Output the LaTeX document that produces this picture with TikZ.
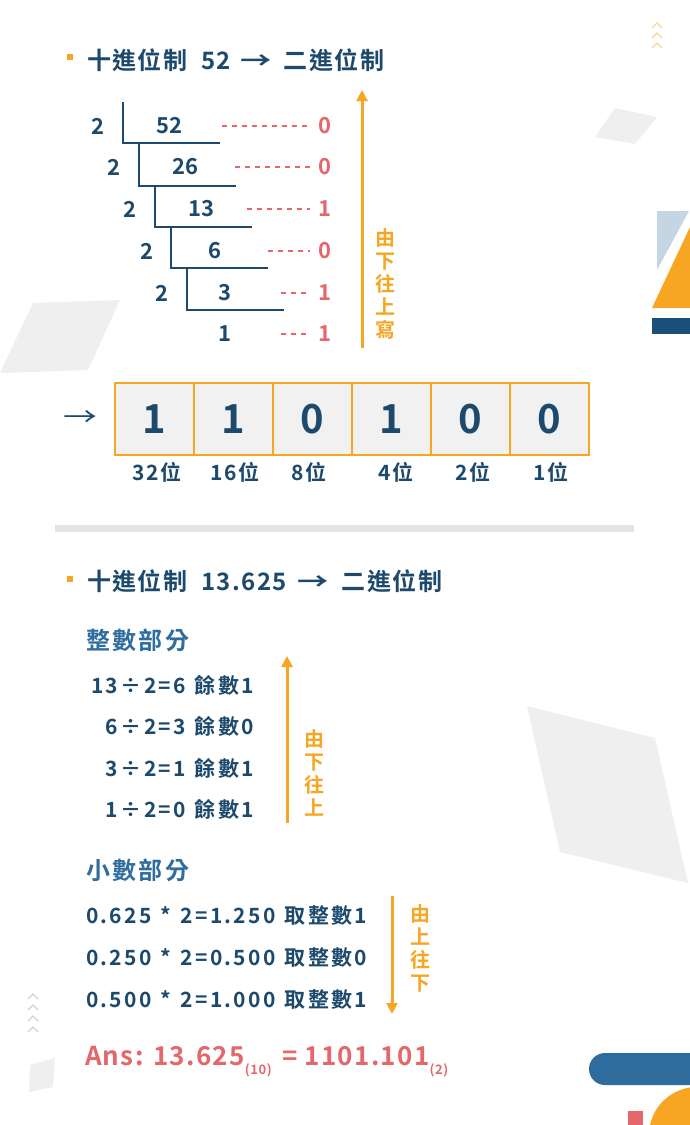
\documentclass[tikz,border=0pt]{standalone}
\usepackage{fontspec}
\setmainfont{Noto Sans CJK TC}[BoldFont={Noto Sans CJK TC Bold}]
\newfontfamily\calcfont{Noto Sans CJK TC}[BoldFont={Noto Sans CJK TC Bold}, LetterSpace=11, WordSpace=1.3]
\usetikzlibrary{arrows.meta}
\definecolor{navy}{HTML}{1D4A6C}
\definecolor{rd}{HTML}{E4676B}
\definecolor{org}{HTML}{F6A623}
\definecolor{mblue}{HTML}{2E6D9E}
\definecolor{lgray}{HTML}{EFEFEF}
\definecolor{sepc}{HTML}{E3E3E3}
\definecolor{lblue}{HTML}{C5D5E3}
\definecolor{dblue}{HTML}{1B4F78}
\definecolor{barblue}{HTML}{2D6C9C}
\definecolor{chevo}{HTML}{F8D3A0}
\definecolor{chevb}{HTML}{C9D3DE}
\definecolor{cellfill}{HTML}{F1F1F1}
\newcommand{\larr}{\scalebox{1.3}[1]{→}}
\begin{document}
\begin{tikzpicture}[x=1pt,y=-1pt,
  every node/.style={inner sep=0pt, outer sep=0pt},
  ttext/.style={text=navy, font=\bfseries\fontsize{24}{24}\selectfont\addfontfeatures{LetterSpace=6}, anchor=west},
  bullet/.style={fill=org, minimum size=6pt},
  numtext/.style={text=navy, font=\bfseries\fontsize{22}{22}\selectfont},
  remtext/.style={text=rd, font=\bfseries\fontsize{22}{22}\selectfont},
  ladder/.style={draw=navy, line width=2.6pt},
  reddash/.style={draw=rd, line width=2pt, dash pattern=on 5pt off 5pt},
  vtext/.style={text=org, font=\bfseries\fontsize{20}{23}\selectfont, align=center},
  upar/.style={draw=org, line width=3pt, -{Triangle[width=11pt,length=11pt]}},
  cellbox/.style={draw=org, fill=cellfill, line width=2.5pt, minimum width=79pt, minimum height=72pt, text=navy, font=\bfseries\fontsize{40}{40}\selectfont},
  poslabel/.style={text=navy, font=\bfseries\fontsize{21}{21}\selectfont\addfontfeatures{LetterSpace=10}},
  headtext/.style={text=mblue, font=\bfseries\fontsize{24}{24}\selectfont\addfontfeatures{LetterSpace=10}, anchor=west},
  calcline/.style={text=navy, font=\calcfont\bfseries\fontsize{21}{21}\selectfont},
  deco/.style={fill=lgray, draw=none}
]
\useasboundingbox (0,0) rectangle (690,1125);
\fill[white] (0,0) rectangle (690,1125);

% ---------- decorations ----------
\fill[deco] (595,137) -- (615,108) -- (657,117) -- (635,144) -- cycle;
\fill[deco] (33,303) -- (120,300) -- (88,370) -- (0,373) -- cycle;
\fill[deco] (527,706) -- (655,738) -- (688,883) -- (560,852) -- cycle;
\fill[deco] (30,1065) -- (55,1058) -- (53,1087) -- (29,1092) -- cycle;
\fill[lblue] (657,211) -- (689,211) -- (657,270) -- cycle;
\fill[org] (652,308) -- (690,308) -- (690,227) -- cycle;
\fill[dblue] (652,318) rectangle (690,334);
\fill[barblue, rounded corners=16pt] (589,1053) rectangle (720,1085);
\fill[org] (697,1135) circle (48pt);
\fill[rd] (628,1111) rectangle (643,1125);
\foreach \yy in {25,35,45}
  \draw[chevo, line width=1.2pt] (652,\yy+3) -- (657,\yy-2) -- (662,\yy+3);
\foreach \yy in {996,1007,1018,1029}
  \draw[chevb, line width=1.2pt] (28,\yy+3) -- (33,\yy-2) -- (38,\yy+3);

% ---------- section 1 ----------
\node[bullet] (b1) at (70,57) {};
\node[ttext] (t1) at (87,60) {十進位制\hspace{7pt} 52 \hspace{3pt}\larr\hspace{5pt} 二進位制};

% divisors
\node[numtext] (d0) at (98,126) {2};
\node[numtext] (d1) at (114,167) {2};
\node[numtext] (d2) at (130,209) {2};
\node[numtext] (d3) at (147,251) {2};
\node[numtext] (d4) at (162,293) {2};
% quotients
\node[numtext] (q0) at (169,126) {52};
\node[numtext] (q1) at (185,167) {26};
\node[numtext] (q2) at (201,209) {13};
\node[numtext] (q3) at (215,251) {6};
\node[numtext] (q4) at (225,293) {3};
\node[numtext] (q5) at (225,334) {1};
% ladder
\draw[ladder] (123,102) -- (123,143) -- (220,143);
\draw[ladder] (139,143) -- (139,186) -- (236,186);
\draw[ladder] (155,186) -- (155,227) -- (252,227);
\draw[ladder] (171,227) -- (171,268) -- (268,268);
\draw[ladder] (187,268) -- (187,310) -- (284,310);
% remainders
\node[remtext] (r0) at (325,126) {0};
\node[remtext] (r1) at (325,167) {0};
\node[remtext] (r2) at (325,209) {1};
\node[remtext] (r3) at (325,251) {0};
\node[remtext] (r4) at (325,293) {1};
\node[remtext] (r5) at (325,334) {1};
\draw[reddash] (222,126) -- (310,126);
\draw[reddash] (235,167) -- (310,167);
\draw[reddash] (247,209) -- (310,209);
\draw[reddash] (268,251) -- (310,251);
\draw[reddash] (281,293) -- (310,293);
\draw[reddash] (281,334) -- (310,334);

\coordinate (a1s) at (362,348);
\coordinate (a1e) at (362,90);
\draw[upar] (a1s) -- (a1e);
\node[vtext] (v1) at (385,284) {由\\下\\往\\上\\寫};

% result boxes
\node[text=navy, font=\fontsize{26}{26}\selectfont] (arr) at (80,419) {\larr};
\node[cellbox] (c1) at (154.5,419) {1};
\node[cellbox, anchor=west] (c2) at (c1.east) {1};
\node[cellbox, anchor=west] (c3) at (c2.east) {0};
\node[cellbox, anchor=west] (c4) at (c3.east) {1};
\node[cellbox, anchor=west] (c5) at (c4.east) {0};
\node[cellbox, anchor=west] (c6) at (c5.east) {0};
\node[poslabel] (p1) at (157,472) {32位};
\node[poslabel] (p2) at (235,472) {16位};
\node[poslabel] (p3) at (309,472) {8位};
\node[poslabel] (p4) at (396,472) {4位};
\node[poslabel] (p5) at (473,472) {2位};
\node[poslabel] (p6) at (551,472) {1位};

% separator
\fill[sepc] (55,525) rectangle (634,532);

% ---------- section 2 ----------
\node[bullet] (b2) at (70,579) {};
\node[ttext] (t2) at (87,581) {十進位制\hspace{7pt} 13.625 \hspace{4pt}\larr\hspace{6pt} 二進位制};

\node[headtext] (h1) at (86,640) {整數部分};
\node[calcline, anchor=east] (i1) at (254,685) {13÷2=6 餘數1};
\node[calcline, anchor=east] (i2) at (254,726) {6÷2=3 餘數0};
\node[calcline, anchor=east] (i3) at (254,768) {3÷2=1 餘數1};
\node[calcline, anchor=east] (i4) at (254,809) {1÷2=0 餘數1};
\coordinate (a2s) at (287,823);
\coordinate (a2e) at (287,656);
\draw[upar] (a2s) -- (a2e);
\node[vtext] (v2) at (314,773) {由\\下\\往\\上};

\node[headtext] (h2) at (86,870) {小數部分};
\node[calcline, anchor=west] (f1) at (86,916) {0.625 * 2=1.250 取整數1};
\node[calcline, anchor=west] (f2) at (86,958) {0.250 * 2=0.500 取整數0};
\node[calcline, anchor=west] (f3) at (86,1000) {0.500 * 2=1.000 取整數1};
\coordinate (a3s) at (392,896);
\coordinate (a3e) at (392,1014);
\draw[upar] (a3s) -- (a3e);
\node[vtext] (v3) at (420,948) {由\\上\\往\\下};

\node[text=rd, font=\bfseries\fontsize{26}{26}\selectfont\addfontfeatures{LetterSpace=5}, anchor=west] (ans) at (85,1062)
  {Ans: 13.625\raisebox{-9pt}{\fontsize{13}{13}\selectfont(10)}\hspace{3pt} = 1101.101\raisebox{-9pt}{\fontsize{13}{13}\selectfont(2)}};
\end{tikzpicture}
\end{document}
